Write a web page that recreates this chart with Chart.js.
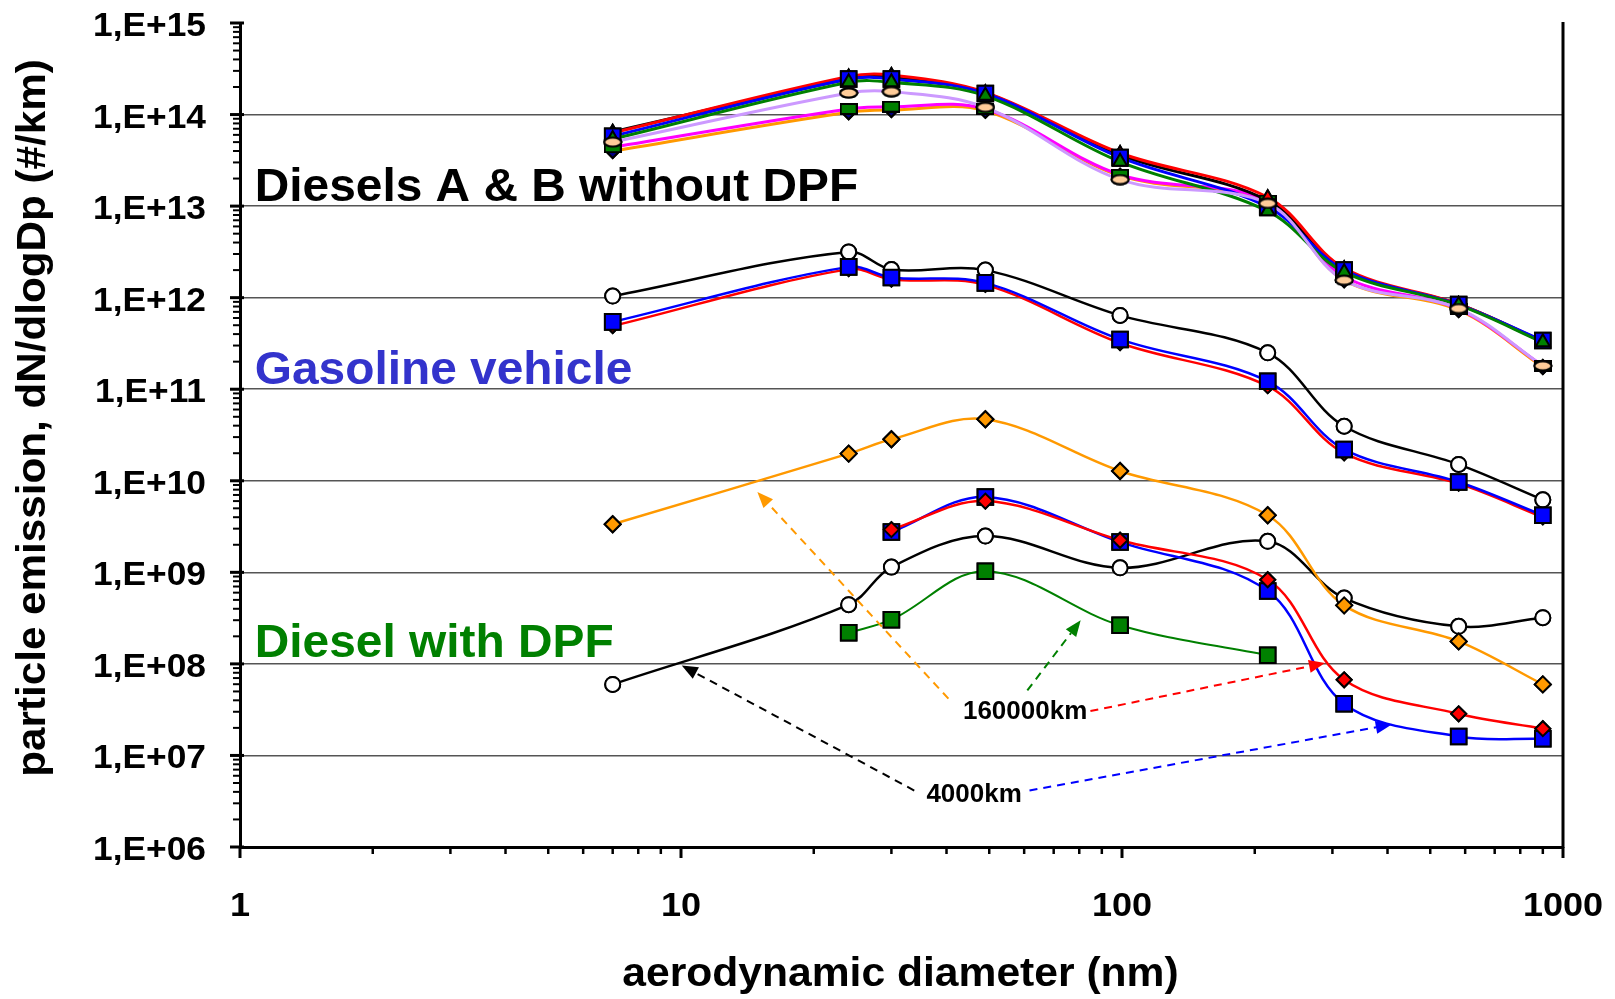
<!DOCTYPE html>
<html>
<head>
<meta charset="utf-8">
<script src="https://cdn.jsdelivr.net/npm/chart.js@4.4.1/dist/chart.umd.min.js"></script>
<style>
  html, body { margin: 0; padding: 0; background: #fff; }
  #wrap { width: 1615px; height: 999px; }
</style>
</head>
<body>
<div id="wrap"><canvas id="graph"></canvas></div>
<script>
// aerodynamic diameter of the impactor stages (nm)
const diameters = [7, 24, 30, 49, 99, 214, 319, 580, 900];

// Diesels A & B without DPF
const dieselBlack   = [6.5e13, 2.45e14, 2.6e14, 1.72e14, 3.6e13, 1.15e13, 2.0e12, 8.5e11, 3.3e11];
const dieselRed     = [6.3e13, 2.6e14, 2.7e14, 1.75e14, 3.8e13, 1.25e13, 2.1e12, 8.5e11, 3.35e11];
const dieselBlue    = [5.8e13, 2.45e14, 2.45e14, 1.7e14, 3.4e13, 9.8e12, 2.0e12, 8.4e11, 3.4e11];
const dieselGreen   = [5.4e13, 2.25e14, 2.25e14, 1.6e14, 3.05e13, 8.8e12, 1.9e12, 8.3e11, 3.25e11];
const dieselLilac   = [5.0e13, 1.72e14, 1.78e14, 1.2e14, 1.95e13, 1.07e13, 1.55e12, 7.6e11, 1.8e11];
const dieselMagenta = [4.4e13, 1.15e14, 1.22e14, 1.15e14, 2.2e13, 1.15e13, 1.7e12, 7.5e11, 1.8e11];
const dieselOrange  = [4.0e13, 1.06e14, 1.12e14, 1.1e14, 2.15e13, 1.1e13, 1.55e12, 7.3e11, 1.75e11];

// Gasoline vehicle
const gasBlack = [1.04e12, 3.16e12, 2.03e12, 2.0e12, 6.4e11, 2.5e11, 3.94e10, 1.51e10, 6.2e9];
const gasBlue  = [5.44e11, 2.17e12, 1.66e12, 1.45e12, 3.5e11, 1.22e11, 2.2e10, 9.7e9, 4.2e9];
const gasRed   = [4.9e11, 2.05e12, 1.58e12, 1.38e12, 3.2e11, 1.08e11, 2.0e10, 9.3e9, 4.0e9];

// Diesel with DPF
const dpfOrange = [3.35e9, 1.98e10, 2.84e10, 4.7e10, 1.28e10, 4.2e9, 4.36e8, 1.76e8, 5.97e7];
const dpfRed    = [null, null, 2.93e9, 6.0e9, 2.24e9, 8.3e8, 6.7e7, 2.85e7, 1.96e7];
const dpfBlue   = [null, null, 2.76e9, 6.65e9, 2.14e9, 6.25e8, 3.67e7, 1.61e7, 1.52e7];
const dpfBlack  = [5.97e7, 4.43e8, 1.14e9, 2.49e9, 1.12e9, 2.18e9, 5.24e8, 2.57e8, 3.2e8];
const dpfGreen  = [null, 2.19e8, 3.04e8, 1.03e9, 2.64e8, 1.24e8, null, null, null];

// axes
const yDecades = [1e6, 1e7, 1e8, 1e9, 1e10, 1e11, 1e12, 1e13, 1e14, 1e15];
const yTickLabels = ['1,E+06', '1,E+07', '1,E+08', '1,E+09', '1,E+10', '1,E+11', '1,E+12', '1,E+13', '1,E+14', '1,E+15'];
const xDecades = [1, 10, 100, 1000];
const xTickLabels = ['1', '10', '100', '1000'];

// text placed in data units (x in nm, y in #/km)
const groupLabels = [
    { text: 'Diesels A & B without DPF', x: 1.08, y: 1.14e13, color: '#000000' },
    { text: 'Gasoline vehicle', x: 1.08, y: 1.15e11, color: '#3333CC' },
    { text: 'Diesel with DPF', x: 1.08, y: 1.19e8, color: '#008000' }
];
const kmLabels = [
    { text: '160000km', x: 60.3, y: 2.52e7 },
    { text: '4000km', x: 46.2, y: 3.09e6 }
];
const arrows = [
    { from: [40.4, 4.17e7], to: [14.9, 7.55e9], color: '#FF9900' },
    { from: [61.0, 5.13e7], to: [80.6, 2.99e8], color: '#008000' },
    { from: [84.8, 3.05e7], to: [288.6, 1.02e8], color: '#FF0000' },
    { from: [33.8, 4.14e6], to: [10.04, 9.6e7], color: '#000000' },
    { from: [61.7, 4.14e6], to: [409, 2.18e7], color: '#0000FF' }
];

function marker(w, h, draw) {
    const c = document.createElement('canvas');
    c.width = w; c.height = h;
    const g = c.getContext('2d');
    draw(g);
    return c;
}
const peachEllipse = marker(20, 12, g => {
    g.beginPath(); g.ellipse(10, 6, 8.5, 4.6, 0, 0, Math.PI * 2);
    g.fillStyle = '#FFCC99'; g.fill();
    g.lineWidth = 2; g.strokeStyle = '#000'; g.stroke();
});
const greenBar = marker(18, 12, g => {
    g.fillStyle = '#008000'; g.fillRect(1, 1, 16, 10);
    g.lineWidth = 2; g.strokeStyle = '#000'; g.strokeRect(1, 1, 16, 10);
});

function series(vals, line, width, style, fill, radius, order) {
    return {
        data: diameters.map((d, i) => ({ x: d, y: vals[i] })),
        borderColor: line,
        borderWidth: width,
        pointStyle: style,
        pointBackgroundColor: fill,
        pointBorderColor: '#000',
        pointBorderWidth: 2,
        pointRadius: radius,
        tension: 0.35,
        fill: false,
        order: order
    };
}

const datasets = [
    series(dpfRed, '#FF0000', 2.5, 'rectRot', '#FF0000', 7.5, 1),
    series(dpfBlue, '#0000FF', 2.5, 'rect', '#0000FF', 11, 2),
    series(dpfOrange, '#FF9900', 2.5, 'rectRot', '#FF9900', 8, 3),
    series(dpfBlack, '#000000', 2.5, 'circle', '#FFFFFF', 7.5, 4),
    series(dpfGreen, '#008000', 2, 'rect', '#008000', 11, 5),
    series(gasBlue, '#0000FF', 2.5, 'rect', '#0000FF', 11, 6),
    series(gasRed, '#FF0000', 2.5, 'rectRot', '#FF0000', 7, 7),
    series(gasBlack, '#000000', 2.5, 'circle', '#FFFFFF', 7.5, 8),
    series(dieselLilac, '#CC99FF', 3, peachEllipse, '#FFCC99', 7, 9),
    series(dieselGreen, '#008000', 3, 'triangle', '#008000', 8, 10),
    series(dieselBlue, '#0000FF', 3, 'rect', '#0000FF', 11, 11),
    series(dieselRed, '#FF0000', 3, 'triangle', '#FF0000', 7, 12),
    series(dieselBlack, '#000000', 3, 'triangle', '#000000', 7, 13),
    series(dieselMagenta, '#FF00FF', 3, greenBar, '#008000', 7, 14),
    series(dieselOrange, '#FF9900', 3, 'rectRot', '#000080', 7, 15)
];

function wideText(ctx, text, x, y, size, stretch, color, align) {
    ctx.save();
    ctx.font = 'bold ' + size + 'px "Liberation Sans", Arial, sans-serif';
    ctx.fillStyle = color;
    ctx.textAlign = align;
    ctx.textBaseline = 'alphabetic';
    ctx.translate(x, y);
    ctx.scale(stretch, 1);
    ctx.fillText(text, 0, 0);
    ctx.restore();
}

function arrow(ctx, x1, y1, x2, y2, color) {
    const ang = Math.atan2(y2 - y1, x2 - x1);
    const len = 16, half = 6.5;
    ctx.save();
    ctx.strokeStyle = color;
    ctx.fillStyle = color;
    ctx.lineWidth = 2;
    ctx.setLineDash([8, 6]);
    ctx.beginPath();
    ctx.moveTo(x1, y1);
    ctx.lineTo(x2 - Math.cos(ang) * len, y2 - Math.sin(ang) * len);
    ctx.stroke();
    ctx.setLineDash([]);
    ctx.beginPath();
    ctx.moveTo(x2, y2);
    ctx.lineTo(x2 - Math.cos(ang) * len - Math.sin(ang) * half, y2 - Math.sin(ang) * len + Math.cos(ang) * half);
    ctx.lineTo(x2 - Math.cos(ang) * len + Math.sin(ang) * half, y2 - Math.sin(ang) * len - Math.cos(ang) * half);
    ctx.closePath();
    ctx.fill();
    ctx.restore();
}

const decor = {
    id: 'decor',
    afterDatasetsDraw(chart) {
        // markers on top of every line
        const metas = chart.getSortedVisibleDatasetMetas();
        for (let i = metas.length - 1; i >= 0; i--) {
            metas[i].data.forEach(p => p.draw(chart.ctx, chart.chartArea));
        }
    },
    afterDraw(chart) {
        const ctx = chart.ctx, xs = chart.scales.x, ys = chart.scales.y, a = chart.chartArea;

        ctx.save();
        ctx.strokeStyle = '#000';
        ctx.lineWidth = 3;
        ctx.beginPath();
        ctx.moveTo(a.right, a.top - 1);
        ctx.lineTo(a.right, a.bottom + 1);
        ctx.stroke();

        // y tick marks
        yDecades.forEach((d, i) => {
            const py = ys.getPixelForValue(d);
            ctx.lineWidth = 3;
            ctx.beginPath(); ctx.moveTo(a.left - 10, py); ctx.lineTo(a.left + 4, py); ctx.stroke();
            if (i < yDecades.length - 1) {
                ctx.lineWidth = 2;
                for (let k = 2; k <= 9; k++) {
                    const pm = ys.getPixelForValue(k * d);
                    ctx.beginPath(); ctx.moveTo(a.left - 7, pm); ctx.lineTo(a.left + 2, pm); ctx.stroke();
                }
            }
        });
        // x tick marks
        xDecades.forEach((d, i) => {
            const px = xs.getPixelForValue(d);
            ctx.lineWidth = 3;
            ctx.beginPath(); ctx.moveTo(px, a.bottom); ctx.lineTo(px, a.bottom + 11); ctx.stroke();
            if (i < xDecades.length - 1) {
                ctx.lineWidth = 2.5;
                for (let k = 2; k <= 9; k++) {
                    const pm = xs.getPixelForValue(k * d);
                    ctx.beginPath(); ctx.moveTo(pm, a.bottom); ctx.lineTo(pm, a.bottom + 7); ctx.stroke();
                }
            }
        });
        ctx.restore();

        // tick labels
        yDecades.forEach((d, i) => {
            wideText(ctx, yTickLabels[i], 206, ys.getPixelForValue(d) + 13, 33, 1.07, '#000', 'right');
        });
        xDecades.forEach((d, i) => {
            wideText(ctx, xTickLabels[i], xs.getPixelForValue(d), a.bottom + 69, 34, 1.06, '#000', 'center');
        });

        // axis titles
        wideText(ctx, 'aerodynamic diameter (nm)', (a.left + a.right) / 2 - 1, 986, 40, 1.065, '#000', 'center');
        ctx.save();
        ctx.translate(45, 418);
        ctx.rotate(-Math.PI / 2);
        wideText(ctx, 'particle emission, dN/dlogDp (#/km)', 0, 0, 40, 1.055, '#000', 'center');
        ctx.restore();

        // group labels
        groupLabels.forEach(l => {
            wideText(ctx, l.text, xs.getPixelForValue(l.x), ys.getPixelForValue(l.y), 46, 1.04, l.color, 'left');
        });

        // mileage arrows and labels
        arrows.forEach(r => {
            arrow(ctx, xs.getPixelForValue(r.from[0]), ys.getPixelForValue(r.from[1]),
                xs.getPixelForValue(r.to[0]), ys.getPixelForValue(r.to[1]), r.color);
        });
        kmLabels.forEach(l => {
            wideText(ctx, l.text, xs.getPixelForValue(l.x), ys.getPixelForValue(l.y), 25, 1.04, '#000', 'center');
        });
    }
};

var ctx = document.getElementById('graph').getContext('2d');
var myGraph = new Chart(ctx, {
    type: 'line',
    data: { datasets: datasets },
    plugins: [decor],
    options: {
        responsive: true,
        maintainAspectRatio: false,
        animation: false,
        events: [],
        layout: {
            padding: { left: 240, right: 52, top: 23, bottom: 152 }
        },
        plugins: {
            legend: { display: false },
            tooltip: { enabled: false },
            title: { display: false }
        },
        scales: {
            x: {
                type: 'logarithmic',
                min: 1,
                max: 1000,
                ticks: { display: false },
                grid: { display: false, drawTicks: false },
                border: { display: true, color: '#000', width: 3 }
            },
            y: {
                type: 'logarithmic',
                min: 1e6,
                max: 1e15,
                afterBuildTicks: scale => {
                    scale.ticks = yDecades.map(v => ({ value: v }));
                },
                ticks: { display: false },
                grid: {
                    drawTicks: false,
                    lineWidth: 1.5,
                    color: c => (c.tick && (c.tick.value === 1e15 || c.tick.value === 1e6)) ? 'rgba(0,0,0,0)' : '#555555'
                },
                border: { display: true, color: '#000', width: 3 }
            }
        }
    }
});
</script>
</body>
</html>
